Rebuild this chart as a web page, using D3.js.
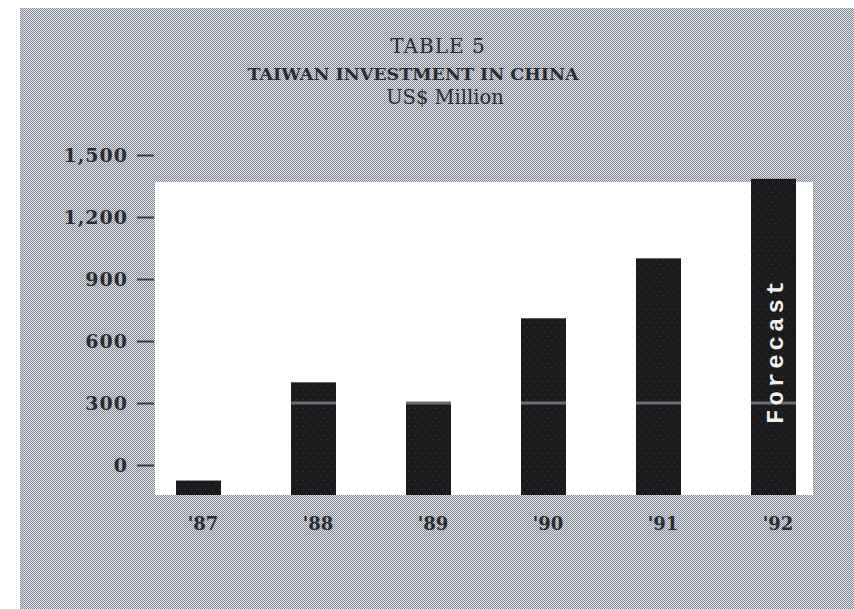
<!DOCTYPE html>
<html>
<head>
<meta charset="utf-8">
<script src="https://cdn.jsdelivr.net/npm/d3@7"></script>
<style>
  html, body { margin: 0; padding: 0; background: #ffffff; }
  svg { display: block; }
</style>
</head>
<body>
<svg id="chart" width="854" height="609"></svg>
<script>
// ---- data ----
const years = ["'87", "'88", "'89", "'90", "'91", "'92"];
const investment = [-75, 400, 300, 710, 1000, 1385];   // US$ million
const yTicks = [0, 300, 600, 900, 1200, 1500];
const titleLines = ["TABLE 5", "TAIWAN INVESTMENT IN CHINA", "US$ Million"];
const forecastLabel = "Forecast";
const forecastYear = "'92";

const svg = d3.select("#chart");
const defs = svg.append("defs");

// halftone screen for background
const pat = defs.append("pattern").attr("id", "halftone")
  .attr("width", 2).attr("height", 2).attr("patternUnits", "userSpaceOnUse");
pat.append("rect").attr("width", 2).attr("height", 2).attr("fill", "#e0e3e8");
pat.append("rect").attr("x", 0).attr("y", 0).attr("width", 1).attr("height", 1).attr("fill", "#7e8490");
pat.append("rect").attr("x", 1).attr("y", 1).attr("width", 1).attr("height", 1).attr("fill", "#878c97");

// speckled bar texture
const bp = defs.append("pattern").attr("id", "barfill")
  .attr("width", 7).attr("height", 9).attr("patternUnits", "userSpaceOnUse");
bp.append("rect").attr("width", 7).attr("height", 9).attr("fill", "#1b1b1e");
bp.append("rect").attr("x", 2).attr("y", 3).attr("width", 1).attr("height", 1).attr("fill", "#3c3c42");
bp.append("rect").attr("x", 5).attr("y", 7).attr("width", 1).attr("height", 1).attr("fill", "#34343a");

// background
svg.append("rect").attr("x", 20).attr("y", 8).attr("width", 834).attr("height", 601)
  .attr("fill", "url(#halftone)");

// scales
const y = d3.scaleLinear().domain([-145, 1500]).range([495, 155]);
const x = d3.scalePoint().domain(years).range([198.5, 773.5]);
const barW = 45;

// plot area (white)
const plotLeft = 155, plotRight = 813, plotTop = 182;
svg.append("rect").attr("x", plotLeft).attr("y", plotTop)
  .attr("width", plotRight - plotLeft).attr("height", y(-145) - plotTop)
  .attr("fill", "#ffffff");

// titles
const titleG = svg.append("g").attr("font-family", "'DejaVu Serif', serif").attr("fill", "#2a2c34")
  .attr("text-anchor", "middle");
titleG.append("text").attr("x", 438).attr("y", 53).attr("font-size", 20).attr("letter-spacing", 1).text(titleLines[0]);
titleG.append("text").attr("x", 413).attr("y", 80).attr("font-size", 17.5).attr("font-weight", "bold")
  .attr("letter-spacing", 0).text(titleLines[1]);
titleG.append("text").attr("x", 445).attr("y", 104).attr("font-size", 19.5).text(titleLines[2]);

// y axis
const yAxis = d3.axisLeft(y).tickValues(yTicks).tickSize(17).tickPadding(9)
  .tickFormat(d3.format(","));
const yg = svg.append("g").attr("transform", `translate(${plotLeft - 1},0)`).call(yAxis);
yg.select(".domain").remove();
yg.selectAll(".tick line").attr("stroke", "#3a3d46").attr("stroke-width", 2);
yg.selectAll(".tick text").attr("font-family", "'DejaVu Serif', serif").attr("font-weight", "bold")
  .attr("font-size", 19).attr("letter-spacing", 1).attr("fill", "#2a2c34");

// bars
const data = years.map((yr, i) => ({ year: yr, value: investment[i] }));
svg.append("g").selectAll("rect").data(data).join("rect")
  .attr("x", d => x(d.year) - barW / 2)
  .attr("y", d => y(d.value))
  .attr("width", barW)
  .attr("height", d => y(-145) - y(d.value))
  .attr("fill", "url(#barfill)");

// faint gridline at 300 visible over the dark bars
svg.append("g").selectAll("line").data(data.filter(d => d.value >= 300)).join("line")
  .attr("x1", d => x(d.year) - barW / 2).attr("x2", d => x(d.year) + barW / 2)
  .attr("y1", y(300)).attr("y2", y(300))
  .attr("stroke", "#6c6c70").attr("stroke-width", 3);

// x labels
const xAxis = d3.axisBottom(x).tickSize(0).tickPadding(0);
const xg = svg.append("g").attr("transform", `translate(4,${531 - 14})`).call(xAxis);
xg.select(".domain").remove();
xg.selectAll(".tick text").attr("font-family", "'DejaVu Serif', serif").attr("font-weight", "bold")
  .attr("font-size", 18).attr("fill", "#2a2c34").attr("dy", "0.71em");

// forecast label inside last bar
svg.append("text")
  .attr("transform", `translate(${x(forecastYear) + 9},${y(300) + 21}) rotate(-90)`)
  .attr("font-family", "'Liberation Mono', monospace").attr("font-weight", "bold")
  .attr("font-size", 24).attr("letter-spacing", 4).attr("fill", "#f0f0f0")
  .text(forecastLabel);
</script>
</body>
</html>
